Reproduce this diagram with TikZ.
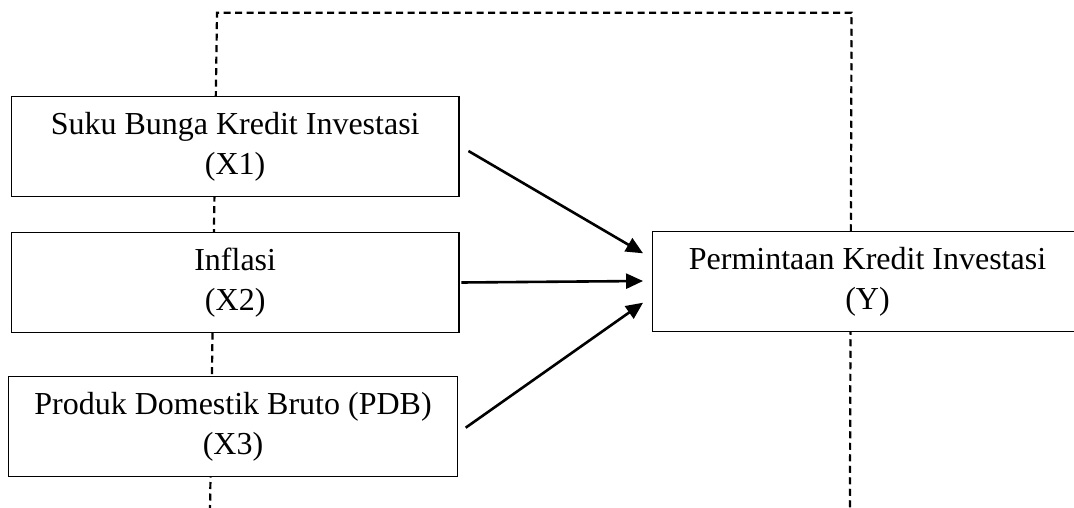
\documentclass[tikz,border=0pt]{standalone}
\usepackage{fontspec}
\setmainfont{Liberation Serif}
\usepackage{tikz}
\usetikzlibrary{arrows.meta}

\begin{document}
\begin{tikzpicture}[x=1pt, y=-1pt,
		varbox/.style={draw, line width=1.5pt, fill=white, align=center, inner sep=0pt,
			minimum height=100pt, font=\fontsize{32}{39.3}\selectfont},
		frame/.style={line width=2.2pt, dash pattern=on 7pt off 4.5pt}]
			\useasboundingbox (0,0) rectangle (1074,508);
			\coordinate (fl-bot) at (210,512);
			\coordinate (fl-top) at (217,12.7);
			\coordinate (fr-top) at (851.6,12.7);
			\coordinate (fr-bot) at (849.9,512);
			\draw[frame] (fl-bot) -- (fl-top) -- (fr-top) -- (fr-bot);
			\node[varbox, minimum width=447.6pt] (X1) at (235.2,146.7) {Suku Bunga Kredit Investasi\\(X1)};
			\node[varbox, minimum width=447.6pt] (X2) at (235.2,282.5) {Inflasi\\(X2)};
			\node[varbox, minimum width=448.7pt] (X3) at (233,426.7) {Produk Domestik Bruto (PDB)\\(X3)};
			\node[varbox, minimum width=430pt] (Y) at (867.5,281.7) {Permintaan Kredit Investasi\\(Y)};
			\path[-{Triangle[length=17pt, width=15pt]}, line width=2.6pt]
			([xshift=8.7pt, yshift=-4.3pt]X1.east) edge ([xshift=-8.7pt, yshift=28.4pt]Y.west)
			([xshift=1.7pt]X2.east) edge ([xshift=-8.7pt, yshift=0.7pt]Y.west)
			([xshift=7.6pt, yshift=-1pt]X3.east) edge ([xshift=-8.7pt, yshift=-21pt]Y.west);
		\end{tikzpicture}
\end{document}
